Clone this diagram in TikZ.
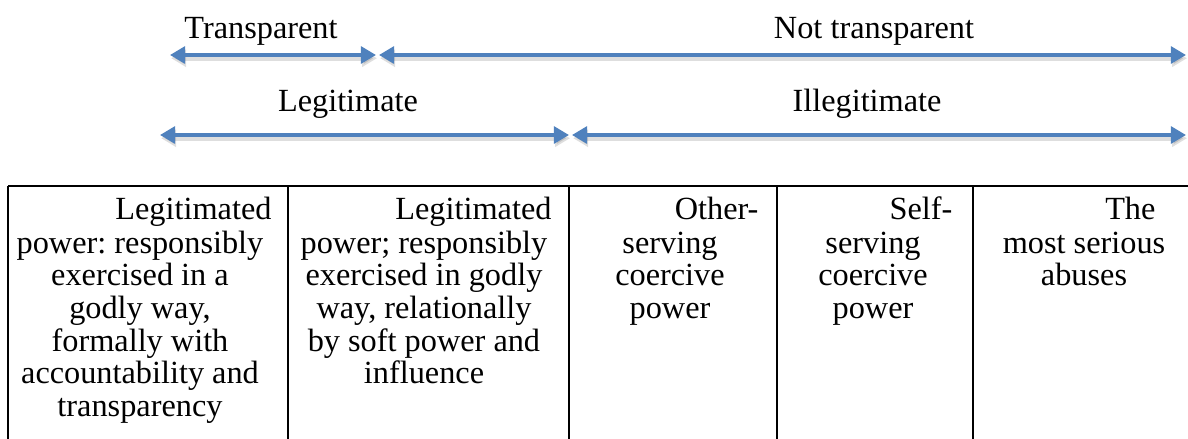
\documentclass[tikz,border=0pt]{standalone}
\usepackage{fontspec}
\setmainfont{Liberation Serif}
\usetikzlibrary{arrows.meta}
\definecolor{arrowblue}{HTML}{4F81BD}
\frenchspacing
\tikzset{
  tip/.tip={Triangle[length=5.6pt,width=6.2pt]},
  arr/.style={draw=arrowblue, line width=1.5pt, tip-tip},
  arrshadow/.style={draw=black, opacity=0.13, line width=2.2pt, tip-tip, transform canvas={xshift=0.4pt,yshift=-1.2pt}},
  lbl/.style={font=\fontsize{12}{12.1}\selectfont, inner sep=0pt, anchor=base},
  firstline/.style={font=\fontsize{12}{12.1}\selectfont, inner sep=0pt, anchor=base east},
  celltext/.style={font=\fontsize{12}{12.1}\selectfont, inner sep=0pt, anchor=north, align=center},
  tbl/.style={draw=black, line width=0.7pt}
}
\begin{document}
\begin{tikzpicture}[x=0.3715pt,y=-0.3715pt]
\useasboundingbox (0,0) rectangle (1188,439);
% labels
\node[lbl] (transp) at (261,39) {Transparent};
\node[lbl] (nottransp) at (874,39) {Not transparent};
\node[lbl] (legit) at (348,112) {Legitimate};
\node[lbl] (illegit) at (867,112) {Illegitimate};
% arrow end points
\coordinate (a1l) at (170,55);
\coordinate (a1r) at (376,55);
\coordinate (a2l) at (379,55);
\coordinate (a2r) at (1186,55);
\coordinate (b1l) at (160,135);
\coordinate (b1r) at (569,135);
\coordinate (b2l) at (572,135);
\coordinate (b2r) at (1186,135);
% shadows
\draw[arrshadow] (a1l) -- (a1r);
\draw[arrshadow] (a2l) -- (a2r);
\draw[arrshadow] (b1l) -- (b1r);
\draw[arrshadow] (b2l) -- (b2r);
% arrows
\draw[arr] (a1l) -- (a1r);
\draw[arr] (a2l) -- (a2r);
\draw[arr] (b1l) -- (b1r);
\draw[arr] (b2l) -- (b2r);
% table
\draw[tbl] (8,186) -- (1188,186);
\draw[tbl] (8,186) -- (8,439);
\draw[tbl] (288,186) -- (288,439);
\draw[tbl] (569,186) -- (569,439);
\draw[tbl] (777,186) -- (777,439);
\draw[tbl] (973,186) -- (973,439);
% cell texts
\node[firstline] (c1a) at (272,220) {Legitimated};
\node[celltext] (c1b) at (140,230) {\strut power: responsibly\\exercised in a\\godly way,\\formally with\\accountability and\\transparency};
\node[firstline] (c2a) at (552,220) {Legitimated};
\node[celltext] (c2b) at (424,230) {\strut power; responsibly\\exercised in godly\\way, relationally\\by soft power and\\influence};
\node[firstline] (c3a) at (759,220) {Other-};
\node[celltext] (c3b) at (670,230) {\strut serving\\coercive\\power};
\node[firstline] (c4a) at (953,220) {Self-};
\node[celltext] (c4b) at (873,230) {\strut serving\\coercive\\power};
\node[firstline] (c5a) at (1156,220) {The};
\node[celltext] (c5b) at (1084,230) {\strut most serious\\abuses};
\end{tikzpicture}
\end{document}
